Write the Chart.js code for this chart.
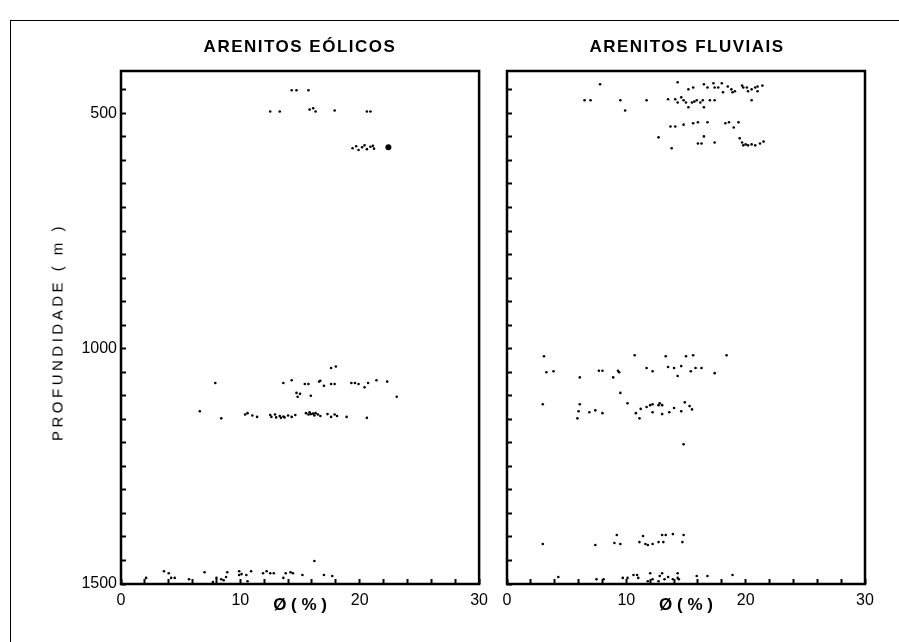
<!DOCTYPE html>
<html>
<head>
<meta charset="utf-8">
<script src="https://cdn.jsdelivr.net/npm/chart.js@4"></script>
<style>
  body { margin: 0; background: #fff; }
  #page { position: relative; width: 899px; height: 642px; overflow: hidden; }
  #frame { position: absolute; left: 10px; top: 20px; width: 900px; height: 640px;
           border-top: 1.5px solid #000; border-left: 1.5px solid #000; }
  canvas { position: absolute; left: 0; top: 0; }
  .title { position: absolute; top: 37px; font: bold 17px "Liberation Sans", Arial, sans-serif;
           letter-spacing: 1.5px; color: #000; transform: translateX(-50%); white-space: nowrap; }
  #ylabel { position: absolute; left: 57px; top: 332px; font: 15px "Liberation Sans", Arial, sans-serif;
            letter-spacing: 3.5px; color: #000; white-space: nowrap;
            transform: translate(-50%, -50%) rotate(-90deg); }
</style>
</head>
<body>
<div id="page">
  <div id="frame"></div>
  <canvas id="eolicos" width="500" height="642"></canvas>
  <canvas id="fluviais" width="899" height="642"></canvas>
  <div class="title" style="left:300px">ARENITOS EÓLICOS</div>
  <div class="title" style="left:687px">ARENITOS FLUVIAIS</div>
  <div id="ylabel">PROFUNDIDADE ( m )</div>
</div>
<script>
// tick values
const phiTicks = [0, 2, 4, 6, 8, 10, 12, 14, 16, 18, 20, 22, 24, 26, 28, 30];
const phiLabels = [0, 10, 20, 30];
const depthTicks = [450, 500, 550, 600, 650, 700, 750, 800, 850, 900, 950, 1000,
  1050, 1100, 1150, 1200, 1250, 1300, 1350, 1400, 1450, 1500];
const depthLabels = [500, 1000, 1500];

// Arenitos eólicos - porosidade (%) e profundidade (m)
const eolicosPhi = [
  14.3, 14.7, 15.7,
  12.5, 13.3, 15.8, 16.1, 16.3, 17.9, 20.6, 20.9,
  19.4, 19.7, 19.9, 20.2, 20.4, 20.6, 20.9, 21.1, 21.2,
  17.6, 18.0,
  7.9, 13.6, 14.3, 15.4, 15.7, 16.6, 16.7, 17.0, 17.6, 17.9, 19.3, 19.6, 19.9, 20.4, 20.7, 21.4, 22.3,
  14.7, 14.8, 15.0, 15.9, 23.1,
  6.6, 8.4, 10.4, 10.6, 11.0, 11.4, 12.5, 12.6, 12.9, 13.0, 13.3, 13.4, 13.6, 13.7, 14.0, 14.3, 14.6,
  15.5, 15.7, 15.8, 15.9, 16.1, 16.2, 16.3, 16.5, 16.7, 17.3, 17.6, 17.9, 18.1, 18.9, 20.6,
  16.2, 3.6, 7.0, 9.9, 10.1, 10.5, 10.9, 11.9, 12.2, 12.5, 12.8, 13.8, 14.2, 14.4, 15.2, 17.0, 17.7,
  2.1, 4.0, 4.2, 4.5, 5.7, 7.7, 8.0, 8.4, 8.6, 8.8, 8.9, 9.9, 10.6, 13.6
];
const eolicosDepth = [
  451, 451, 451,
  496, 496, 492, 489, 496, 494, 496, 496,
  574, 570, 578, 572, 568, 576, 571, 569, 575,
  1041, 1038,
  1073, 1073, 1067, 1075, 1075, 1070, 1068, 1079, 1075, 1075, 1073, 1073, 1075, 1082, 1073, 1067, 1070,
  1094, 1102, 1096, 1100, 1102,
  1133, 1148, 1140, 1137, 1142, 1145, 1141, 1145, 1140, 1146, 1143, 1147, 1144, 1146, 1142, 1145, 1141,
  1137, 1140, 1135, 1139, 1138, 1142, 1137, 1140, 1143, 1139, 1145, 1140, 1143, 1145, 1147,
  1451, 1473, 1475, 1473, 1479, 1481, 1473, 1477, 1473, 1477, 1477, 1477, 1475, 1477, 1481, 1481, 1483,
  1487, 1477, 1487, 1487, 1490, 1496, 1487, 1490, 1492, 1485, 1475, 1481, 1494, 1487
];
// the one heavy dot
const eolicosBigPhi = [22.4];
const eolicosBigDepth = [572];

// Arenitos fluviais
const fluviaisPhi = [
  7.8, 14.3, 15.6, 15.2, 16.5, 16.8, 17.3, 17.4, 17.7, 18.1, 18.0, 18.5, 18.8, 18.9, 19.1, 19.7, 19.8,
  20.1, 20.2, 20.5, 20.8, 21.0, 21.0, 21.4,
  6.5, 7.0, 9.5, 9.9, 11.7, 13.5, 14.1, 14.3, 14.6, 14.8, 15.0, 15.5, 15.7, 15.9, 16.2, 16.4, 17.0,
  17.4, 15.2, 16.5, 20.5,
  13.7, 14.1, 14.8, 15.6, 16.0, 16.8, 18.3, 18.6, 19.0, 19.4,
  12.7, 16.5, 13.8, 16.0, 16.3, 17.4, 19.5, 19.7, 19.8, 20.0, 20.2, 20.5, 20.8, 21.2, 21.5,
  3.1, 10.7, 13.3, 15.0, 15.6, 18.4,
  3.3, 3.9, 6.1, 7.7, 8.0, 8.9, 9.3, 9.4, 11.7, 12.2, 13.5, 14.0, 14.3, 14.6, 15.4, 15.8, 16.3, 17.4,
  9.5,
  3.0, 6.1, 6.0, 5.9, 6.9, 7.4, 8.0, 10.1, 10.8, 11.1, 11.2, 11.7, 12.0, 12.2, 12.2, 12.7, 12.8, 13.0,
  13.0, 13.6, 14.0, 14.6, 14.9, 15.3, 15.5,
  14.8,
  3.0, 7.4, 9.2, 9.0, 9.5, 11.1, 11.4, 11.6, 11.8, 12.2, 12.7, 13.0, 13.1, 13.3, 13.9, 14.7, 14.8,
  4.3, 7.5, 8.1, 9.7, 10.1, 10.6, 10.9, 11.0, 11.8, 12.0, 12.2, 12.7, 12.8, 13.0, 13.2, 13.5, 13.9,
  14.3, 14.3, 14.4, 15.9, 16.8, 18.9
];
const fluviaisDepth = [
  438, 434, 445, 449, 438, 445, 436, 445, 445, 455, 436, 443, 449, 455, 453, 441, 445,
  445, 453, 449, 445, 453, 443, 441,
  472, 472, 472, 494, 472, 470, 470, 477, 466, 472, 477, 477, 475, 472, 477, 472, 472,
  472, 487, 487, 472,
  528, 528, 524, 521, 519, 519, 521, 519, 530, 519,
  551, 549, 574, 564, 564, 562, 553, 562, 568, 566, 568, 566, 568, 564, 560,
  1016, 1014, 1016, 1016, 1014, 1014,
  1050, 1048, 1061, 1047, 1047, 1061, 1047, 1050, 1041, 1048, 1039, 1041, 1058, 1037, 1048, 1041, 1041, 1052,
  1094,
  1118, 1118, 1133, 1148, 1135, 1131, 1137, 1116, 1137, 1148, 1128, 1124, 1120, 1135, 1118, 1120, 1116, 1139,
  1120, 1135, 1126, 1133, 1114, 1122, 1129,
  1203,
  1415, 1417, 1396, 1413, 1415, 1411, 1398, 1415, 1417, 1415, 1411, 1396, 1411, 1396, 1394, 1411, 1396,
  1485, 1490, 1490, 1487, 1487, 1481, 1481, 1487, 1494, 1477, 1490, 1494, 1483, 1477, 1490, 1485, 1490,
  1487, 1477, 1490, 1483, 1483, 1481
];

const pts = (xs, ys) => xs.map((x, i) => ({ x: x, y: ys[i] }));

// thick box around each plot area
const panelFrame = {
  id: 'panelFrame',
  afterDraw(chart) {
    const { ctx, chartArea: a } = chart;
    ctx.save();
    ctx.strokeStyle = '#000';
    ctx.lineWidth = 2.5;
    ctx.strokeRect(a.left, a.top, a.right - a.left, a.bottom - a.top);
    ctx.restore();
  }
};

function makePanel(id, datasets, left, right, width, showDepth) {
  return new Chart(document.getElementById(id), {
    type: 'scatter',
    data: { datasets: datasets },
    plugins: [panelFrame],
    options: {
      responsive: false,
      animation: false,
      layout: { padding: { left: 0, top: 71, right: width - right, bottom: 0 } },
      plugins: { legend: { display: false }, tooltip: { enabled: false } },
      scales: {
        x: {
          type: 'linear', min: 0, max: 30,
          afterBuildTicks: s => { s.ticks = phiTicks.map(v => ({ value: v })); },
          afterFit: s => { s.height = 642 - 584; },
          border: { display: false },
          grid: { drawOnChartArea: false, drawTicks: true, tickLength: -5, tickWidth: 2, color: '#000' },
          ticks: {
            autoSkip: false, maxRotation: 0, padding: 12, color: '#000',
            font: { family: 'Liberation Sans', size: 16 },
            callback: v => phiLabels.includes(v) ? String(v) : ''
          },
          title: {
            display: true, text: 'Ø ( % )', color: '#000',
            font: { family: 'Liberation Sans', size: 17, weight: 'bold' },
            padding: { top: 0, bottom: 26 }
          }
        },
        y: {
          type: 'linear', min: 410, max: 1500, reverse: true,
          afterBuildTicks: s => { s.ticks = depthTicks.map(v => ({ value: v })); },
          afterFit: s => { s.width = left; },
          border: { display: false },
          grid: { drawOnChartArea: false, drawTicks: true, tickLength: -5, tickWidth: 2, color: '#000' },
          ticks: {
            autoSkip: false, padding: 9, color: '#000',
            font: { family: 'Liberation Sans', size: 16 },
            callback: v => (showDepth && depthLabels.includes(v)) ? String(v) : ''
          }
        }
      }
    }
  });
}

const dot = { pointRadius: 1.3, pointBackgroundColor: '#000', pointBorderWidth: 0 };

makePanel('eolicos', [
  Object.assign({ data: pts(eolicosPhi, eolicosDepth) }, dot),
  { data: pts(eolicosBigPhi, eolicosBigDepth), pointRadius: 3, pointBackgroundColor: '#000', pointBorderWidth: 0 }
], 121, 483, 500, true);

makePanel('fluviais', [
  Object.assign({ data: pts(fluviaisPhi, fluviaisDepth) }, dot)
], 507, 865, 899, false);
</script>
</body>
</html>
